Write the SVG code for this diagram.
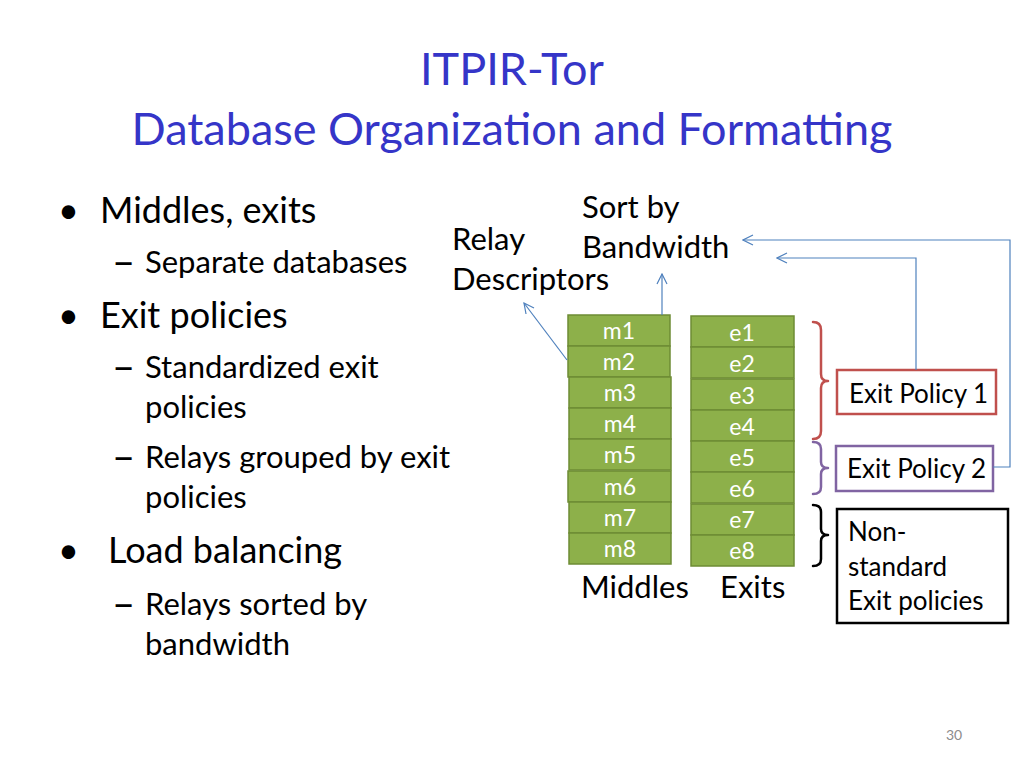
<svg xmlns="http://www.w3.org/2000/svg" width="1024" height="768" viewBox="0 0 1024 768">
<defs>
<style>
text{font-family:Lato,"Open Sans","Liberation Sans",sans-serif;}
.title{font-size:45px;fill:#3535C8;text-anchor:middle;}
.b1{font-size:36px;fill:#000;}
.b2{font-size:31px;fill:#000;}
.dash{font-size:40px;fill:#000;}
.lbl{font-size:31px;fill:#000;}
.cell{fill:#8DB04A;stroke:#6E8C35;stroke-width:1.5;}
.ct{font-size:23px;fill:#fff;text-anchor:middle;}
.box{fill:#fff;stroke-width:2.5;}
.bt{font-size:26px;fill:#000;}
.conn{fill:none;stroke:#4F81BD;stroke-width:1.2;}
.brace{fill:none;stroke-width:2.5;stroke-linecap:round;stroke-linejoin:round;}
</style>
<marker id="arr" viewBox="0 0 12 12" refX="11" refY="6" markerWidth="12" markerHeight="12" markerUnits="userSpaceOnUse" orient="auto">
<path d="M1,1 L11,6 L1,11" fill="none" stroke="#4F81BD" stroke-width="1.2"/>
</marker>
</defs>
<rect width="1024" height="768" fill="#fff"/>
<g id="title">
<text class="title" x="512" y="85">ITPIR-Tor</text>
<text class="title" x="512" y="145">Database Organization and Formatting</text>
</g>
<g id="bullets">
<text class="b1" x="58" y="223">•</text>
<text class="b1" x="100" y="223">Middles, exits</text>
<text class="dash" x="112" y="276">–</text>
<text class="b2" x="145" y="273">Separate databases</text>
<text class="b1" x="58" y="328">•</text>
<text class="b1" x="100" y="328">Exit policies</text>
<text class="dash" x="112" y="381">–</text>
<text class="b2" x="145" y="378">Standardized exit</text>
<text class="b2" x="145" y="418">policies</text>
<text class="dash" x="112" y="471">–</text>
<text class="b2" x="145" y="468">Relays grouped by exit</text>
<text class="b2" x="145" y="508">policies</text>
<text class="b1" x="58" y="563">•</text>
<text class="b1" x="108" y="563">Load balancing</text>
<text class="dash" x="112" y="618">–</text>
<text class="b2" x="145" y="615">Relays sorted by</text>
<text class="b2" x="145" y="655">bandwidth</text>
</g>
<g id="label-relay">
<text class="lbl" x="452" y="250">Relay</text>
<text class="lbl" x="452" y="290">Descriptors</text>
</g>
<g id="label-sort">
<text class="lbl" x="582" y="218">Sort by</text>
<text class="lbl" x="582" y="258">Bandwidth</text>
</g>
<g id="middles">
<rect class="cell" x="568" y="315" width="102" height="31"/><text class="ct" x="619" y="339">m1</text>
<rect class="cell" x="568" y="346" width="102" height="31"/><text class="ct" x="619" y="370">m2</text>
<rect class="cell" x="569" y="377" width="102" height="31"/><text class="ct" x="620" y="401">m3</text>
<rect class="cell" x="569" y="408" width="102" height="31"/><text class="ct" x="620" y="432">m4</text>
<rect class="cell" x="569" y="439" width="102" height="31"/><text class="ct" x="620" y="463">m5</text>
<rect class="cell" x="568" y="471" width="103" height="31"/><text class="ct" x="620" y="495">m6</text>
<rect class="cell" x="569" y="502" width="102" height="31"/><text class="ct" x="620" y="526">m7</text>
<rect class="cell" x="569" y="533" width="102" height="31"/><text class="ct" x="620" y="557">m8</text>
<text class="lbl" x="581" y="598">Middles</text>
</g>
<g id="exits">
<rect class="cell" x="691" y="316" width="103" height="31"/><text class="ct" x="742" y="341">e1</text>
<rect class="cell" x="691" y="347" width="103" height="31"/><text class="ct" x="742" y="372">e2</text>
<rect class="cell" x="691" y="379" width="103" height="31"/><text class="ct" x="742" y="404">e3</text>
<rect class="cell" x="691" y="410" width="103" height="31"/><text class="ct" x="742" y="435">e4</text>
<rect class="cell" x="691" y="441" width="103" height="31"/><text class="ct" x="742" y="466">e5</text>
<rect class="cell" x="691" y="472" width="103" height="31"/><text class="ct" x="742" y="497">e6</text>
<rect class="cell" x="691" y="504" width="103" height="31"/><text class="ct" x="742" y="528">e7</text>
<rect class="cell" x="691" y="535" width="103" height="31"/><text class="ct" x="742" y="559">e8</text>
<text class="lbl" x="720" y="598">Exits</text>
</g>
<g id="braces">
<path class="brace" stroke="#C0504D" d="M813,322 Q821,322 821,330 L821,374 Q821,381 828,381 Q821,381 821,388 L821,431 Q821,439 813,439"/>
<path class="brace" stroke="#8064A2" d="M813,442 Q821,442 821,449 L821,462 Q821,468 828,468 Q821,468 821,474 L821,487 Q821,494 813,494"/>
<path class="brace" stroke="#000" stroke-width="3" d="M813,505 Q821,505 821,512 L821,529 Q821,535 828,535 Q821,535 821,541 L821,559 Q821,566 813,566"/>
</g>
<g id="exit-policy-1">
<rect class="box" stroke="#C0504D" x="837" y="370" width="159" height="44"/>
<text class="bt" x="849" y="403">Exit Policy 1</text>
</g>
<g id="exit-policy-2">
<rect class="box" stroke="#8064A2" x="836" y="446" width="157" height="45"/>
<text class="bt" x="847" y="478">Exit Policy 2</text>
</g>
<g id="non-standard">
<rect class="box" stroke="#000" x="837" y="509" width="171" height="114"/>
<text class="bt" x="848" y="541">Non-</text>
<text class="bt" x="848" y="576">standard</text>
<text class="bt" x="848" y="610">Exit policies</text>
</g>
<g id="connectors">
<path class="conn" d="M567,360 L524,303" marker-end="url(#arr)"/>
<path class="conn" d="M662,315 L662,274" marker-end="url(#arr)"/>
<path class="conn" d="M916,370 L916,258 L777,258" marker-end="url(#arr)"/>
<path class="conn" d="M993,467 L1010,467 L1010,240 L743,240" marker-end="url(#arr)"/>
</g>
<text x="946" y="740" style="font-size:14px;fill:#8C8C8C;">30</text>
</svg>
